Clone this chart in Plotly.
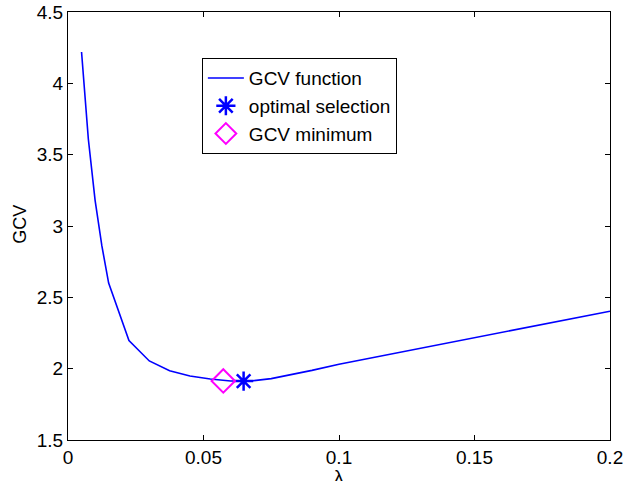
import plotly.graph_objects as go

# Data
lam = [0.005, 0.0075, 0.01, 0.0125, 0.015, 0.0225, 0.03, 0.0375, 0.045, 0.0525,
       0.06, 0.0675, 0.075, 0.0825, 0.09, 0.1, 0.125, 0.15, 0.175, 0.2]
gcv = [4.22, 3.61, 3.18, 2.86, 2.60, 2.197, 2.054, 1.986, 1.949, 1.928,
       1.914, 1.914, 1.93, 1.958, 1.988, 2.031, 2.125, 2.218, 2.31, 2.403]
opt_lam = [0.0648]
opt_gcv = [1.913]
min_lam = [0.0573]
min_gcv = [1.914]

x_ticks = [0, 0.05, 0.1, 0.15, 0.2]
y_ticks = [1.5, 2, 2.5, 3, 3.5, 4, 4.5]

FONT = "Liberation Sans, Arial, Helvetica, sans-serif"

fig = go.Figure()
fig.add_trace(go.Scatter(x=lam, y=gcv, mode="lines", name="GCV function",
                         line=dict(color="#0000ff", width=1.6)))
fig.add_trace(go.Scatter(x=opt_lam, y=opt_gcv, mode="markers", name="optimal selection",
                         marker=dict(symbol="asterisk-open", size=16, color="#0000ff",
                                     line=dict(color="#0000ff", width=2.5))))
fig.add_trace(go.Scatter(x=min_lam, y=min_gcv, mode="markers", name="GCV minimum",
                         marker=dict(symbol="diamond-open", size=18, color="#ff00ff",
                                     line=dict(color="#ff00ff", width=2))))

axis_common = dict(showline=True, linecolor="black", linewidth=1, mirror="ticks",
                   ticks="inside", ticklen=5, tickcolor="black", showgrid=False,
                   zeroline=False, automargin=False,
                   tickfont=dict(family=FONT, size=19, color="black"))

fig.update_xaxes(range=[0, 0.2], tickvals=x_ticks, ticktext=[f"{v:g}" for v in x_ticks],
                 **axis_common)
fig.update_yaxes(range=[1.5, 4.5], tickvals=y_ticks, ticktext=[f"{v:g}" for v in y_ticks],
                 **axis_common)

fig.add_annotation(text="GCV", xref="paper", yref="paper", x=-0.0886, y=0.505,
                   textangle=-90, showarrow=False, xanchor="center", yanchor="middle",
                   font=dict(family=FONT, size=18, color="black"))
fig.add_annotation(text="λ", xref="paper", yref="paper", x=0.5, y=-0.086,
                   showarrow=False, xanchor="center", yanchor="middle",
                   font=dict(family=FONT, size=19, color="black"))

fig.update_layout(
    width=624, height=481,
    margin=dict(l=68, r=14, t=12, b=41),
    paper_bgcolor="white", plot_bgcolor="white",
    showlegend=True,
    legend=dict(x=0.247, y=0.892, xanchor="left", yanchor="top",
                bordercolor="black", borderwidth=1, bgcolor="white",
                font=dict(family=FONT, size=19, color="black"),
                tracegroupgap=0, itemwidth=36),
)

fig.write_html("out.html")
